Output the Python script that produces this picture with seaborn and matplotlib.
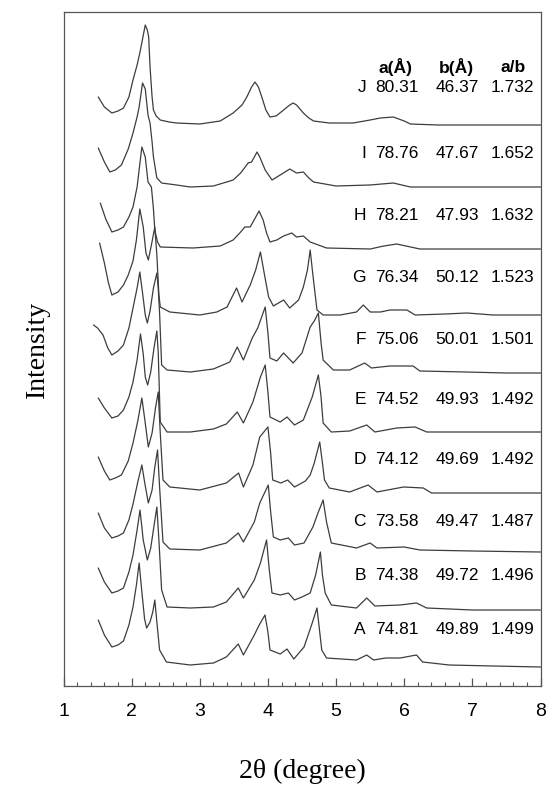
import matplotlib
matplotlib.use("Agg")
import numpy as np
import matplotlib.pyplot as plt
import seaborn as sns
from matplotlib.ticker import MultipleLocator

# lattice parameters, listed bottom (A) to top (J)
samples = ["A", "B", "C", "D", "E", "F", "G", "H", "I", "J"]
a_len = ["74.81", "74.38", "73.58", "74.12", "74.52", "75.06", "76.34", "78.21", "78.76", "80.31"]
b_len = ["49.89", "49.72", "49.47", "49.69", "49.93", "50.01", "50.12", "47.93", "47.67", "46.37"]
ratio = ["1.499", "1.496", "1.487", "1.492", "1.492", "1.501", "1.523", "1.632", "1.652", "1.732"]

# vertical stacking of the patterns (a.u.)
offsets = [19, 76, 134, 193, 254, 313, 371, 437, 499, 561]

# XRD patterns: 2theta (deg) and intensity (a.u.)
tt_A = [1.51, 1.60, 1.71, 1.80, 1.88, 1.96, 2.02, 2.07, 2.11, 2.15, 2.19, 2.22, 2.27, 2.31, 2.34, 2.37, 2.41, 2.51,
        2.86, 3.20, 3.39, 3.565, 3.64, 3.80, 3.88, 3.957, 4.00, 4.03, 4.18, 4.28, 4.38, 4.53, 4.65, 4.72, 4.76,
        4.79, 4.86, 5.30, 5.45, 5.55, 5.73, 5.94, 6.18, 6.27, 6.66, 7.30, 8.00]
in_A = [47, 32, 20, 22, 26, 42, 60, 82, 104, 75, 48, 39, 45, 55, 67, 45, 17, 5,
        2, 4, 10, 23, 12, 32, 43, 52, 35, 17, 13, 18, 8, 20, 44, 59, 35,
        17, 9, 7, 12, 7, 9, 9, 12, 5, 2, 1, 0]

tt_B = [1.51, 1.60, 1.71, 1.80, 1.88, 1.96, 2.02, 2.08, 2.123, 2.17, 2.23, 2.28, 2.33, 2.37, 2.40, 2.44, 2.52,
        2.86, 3.20, 3.39, 3.565, 3.64, 3.80, 3.89, 3.98, 4.02, 4.06, 4.18, 4.30, 4.39, 4.50, 4.62, 4.70, 4.77,
        4.80, 4.84, 4.93, 5.30, 5.45, 5.57, 5.94, 6.18, 6.33, 7.00, 8.00]
in_B = [42, 28, 17, 19, 22, 38, 55, 80, 100, 70, 50, 62, 85, 103, 70, 20, 3,
        2, 3, 8, 22, 12, 30, 47, 70, 40, 17, 15, 17, 10, 13, 17, 35, 58,
        35, 17, 5, 2, 12, 4, 5, 7, 2, 0, 0]

tt_C = [1.51, 1.60, 1.71, 1.80, 1.88, 1.96, 2.02, 2.09, 2.15, 2.19, 2.245, 2.30, 2.34, 2.38, 2.41, 2.46, 2.56,
        3.00, 3.39, 3.565, 3.64, 3.80, 3.88, 4.005, 4.04, 4.08, 4.18, 4.30, 4.39, 4.53, 4.66, 4.74, 4.81, 4.86,
        4.93, 5.30, 5.50, 5.60, 6.00, 6.23, 7.00, 8.00]
in_C = [39, 24, 14, 16, 19, 32, 48, 70, 87, 70, 49, 62, 85, 102, 65, 10, 3,
        2, 9, 19, 10, 30, 49, 67, 40, 15, 12, 14, 7, 9, 25, 40, 52, 30,
        9, 4, 9, 4, 5, 2, 1, 0]

tt_D = [1.51, 1.60, 1.68, 1.76, 1.85, 1.95, 2.02, 2.09, 2.15, 2.19, 2.245, 2.30, 2.35, 2.39, 2.42, 2.46, 2.56,
        3.00, 3.39, 3.57, 3.64, 3.78, 3.88, 4.00, 4.04, 4.07, 4.19, 4.29, 4.39, 4.55, 4.62, 4.68, 4.76, 4.80,
        4.83, 4.90, 5.20, 5.47, 5.60, 5.99, 6.28, 6.40, 7.00, 8.00]
in_D = [36, 22, 13, 15, 18, 32, 50, 72, 95, 75, 46, 60, 85, 101, 60, 13, 6,
        3, 10, 20, 6, 28, 56, 66, 40, 13, 10, 13, 6, 12, 18, 30, 51, 30,
        13, 5, 1, 8, 1, 6, 5, 0, 0, 0]

tt_E = [1.51, 1.60, 1.71, 1.80, 1.88, 1.96, 2.02, 2.08, 2.13, 2.17, 2.20, 2.235, 2.28, 2.33, 2.37, 2.39, 2.42,
        2.52, 2.86, 3.20, 3.39, 3.55, 3.64, 3.78, 3.89, 3.96, 4.00, 4.03, 4.18, 4.28, 4.39, 4.52, 4.65, 4.74,
        4.78, 4.81, 4.93, 5.20, 5.45, 5.57, 5.89, 6.16, 6.33, 7.00, 8.00]
in_E = [34, 24, 14, 16, 22, 35, 50, 72, 98, 78, 55, 47, 60, 85, 101, 80, 10,
        0, 0, 3, 8, 20, 9, 30, 55, 67, 40, 15, 10, 15, 7, 12, 35, 57,
        35, 9, 0, 1, 7, 0, 4, 5, 0, 0, 0]

tt_F = [1.44, 1.50, 1.58, 1.65, 1.71, 1.80, 1.88, 1.96, 2.02, 2.08, 2.12, 2.16, 2.20, 2.23, 2.27, 2.32, 2.37,
        2.39, 2.41, 2.44, 2.52, 2.86, 3.20, 3.44, 3.55, 3.64, 3.77, 3.85, 3.96, 4.00, 4.03, 4.13, 4.23, 4.37,
        4.50, 4.62, 4.68, 4.74, 4.78, 4.81, 4.96, 5.20, 5.42, 5.52, 5.79, 6.13, 6.23, 6.90, 7.50, 8.00]
in_F = [48, 45, 38, 25, 18, 22, 28, 45, 65, 85, 101, 80, 58, 50, 62, 85, 100,
        85, 60, 8, 3, 1, 4, 11, 26, 13, 35, 45, 66, 40, 15, 12, 20, 10,
        20, 46, 52, 60, 30, 13, 3, 3, 10, 5, 7, 7, 2, 1, 0, 0]

tt_G = [1.53, 1.60, 1.66, 1.71, 1.80, 1.88, 1.95, 2.02, 2.07, 2.12, 2.17, 2.21, 2.245, 2.29, 2.34, 2.37, 2.40,
        2.42, 2.56, 3.00, 3.25, 3.40, 3.54, 3.62, 3.74, 3.82, 3.89, 3.95, 4.01, 4.08, 4.23, 4.32, 4.45, 4.52,
        4.58, 4.62, 4.66, 4.72, 4.81, 5.06, 5.30, 5.40, 5.50, 5.65, 5.79, 6.04, 6.16, 6.60, 6.92, 7.30, 8.00]
in_G = [72, 52, 32, 20, 23, 30, 40, 54, 75, 106, 88, 62, 55, 70, 88, 60, 20,
        8, 3, 0, 3, 8, 27, 13, 30, 45, 63, 40, 18, 9, 15, 7, 15, 28,
        45, 65, 40, 5, 0, 0, 3, 10, 3, 3, 5, 5, 0, 1, 2, 0, 0]

tt_H = [1.54, 1.62, 1.71, 1.80, 1.88, 1.96, 2.02, 2.08, 2.15, 2.20, 2.24, 2.29, 2.32, 2.34, 2.38, 2.42, 2.90,
        3.30, 3.49, 3.60, 3.66, 3.74, 3.87, 3.93, 3.98, 4.03, 4.13, 4.23, 4.35, 4.42, 4.52, 4.62, 4.86, 5.50,
        5.70, 5.89, 6.23, 7.00, 8.00]
in_H = [46, 30, 17, 19, 22, 32, 42, 62, 102, 92, 67, 62, 40, 19, 7, 2, 1,
        3, 9, 17, 22, 22, 38, 29, 16, 7, 9, 13, 16, 12, 13, 7, 1, 0,
        3, 5, 0, 0, 0]

tt_I = [1.51, 1.60, 1.68, 1.76, 1.85, 1.95, 2.02, 2.08, 2.11, 2.16, 2.20, 2.24, 2.27, 2.30, 2.32, 2.37, 2.44,
        2.66, 2.86, 3.20, 3.49, 3.60, 3.71, 3.76, 3.84, 3.88, 3.96, 4.06, 4.18, 4.32, 4.42, 4.52, 4.60, 4.67,
        5.00, 5.50, 5.84, 6.09, 7.00, 8.00]
in_I = [39, 25, 15, 17, 22, 38, 54, 70, 80, 104, 98, 72, 64, 45, 30, 9, 4,
        2, 0, 1, 7, 14, 24, 25, 35, 30, 17, 7, 12, 18, 14, 15, 9, 5,
        1, 2, 4, 0, 0, 0]

tt_J = [1.51, 1.60, 1.71, 1.80, 1.88, 1.96, 2.02, 2.08, 2.12, 2.16, 2.20, 2.23, 2.25, 2.27, 2.30, 2.32, 2.36,
        2.42, 2.55, 2.66, 3.00, 3.30, 3.49, 3.62, 3.69, 3.76, 3.81, 3.86, 3.91, 3.97, 4.03, 4.12, 4.23, 4.32,
        4.37, 4.42, 4.52, 4.60, 4.67, 4.90, 5.25, 5.50, 5.65, 5.84, 6.00, 6.09, 6.50, 7.00, 7.50, 8.00]
in_J = [28, 18, 12, 14, 17, 28, 45, 60, 72, 86, 100, 95, 88, 58, 28, 15, 9,
        5, 3, 2, 1, 4, 12, 20, 28, 38, 43, 38, 28, 15, 8, 9, 15, 20,
        22, 20, 12, 7, 4, 2, 2, 5, 7, 8, 4, 1, 0, 0, 0, 0]

patterns = {
    "A": (tt_A, in_A), "B": (tt_B, in_B), "C": (tt_C, in_C), "D": (tt_D, in_D), "E": (tt_E, in_E),
    "F": (tt_F, in_F), "G": (tt_G, in_G), "H": (tt_H, in_H), "I": (tt_I, in_I), "J": (tt_J, in_J),
}

sns.set_style("ticks")
plt.rcParams["font.family"] = ["Liberation Sans", "DejaVu Sans"]
plt.rcParams["text.color"] = "black"
plt.rcParams["axes.labelcolor"] = "black"
plt.rcParams["xtick.labelcolor"] = "black"

fig = plt.figure(figsize=(5.49, 7.92), dpi=100)
ax = fig.add_axes([63.5 / 549, 1 - 686 / 792, 477 / 549, 674 / 792])

line_col = "#3d3d3d"
for s, off in zip(samples, offsets):
    tt, inten = patterns[s]
    sns.lineplot(x=tt, y=np.array(inten) + off, ax=ax, color=line_col, linewidth=0.9,
                 estimator=None, sort=False)

# lattice parameter table
label_lift = [38, 35, 30, 33, 33, 33, 37, 33, 34, 37]
fs = 12.5
for s, off, lift, a, b, r in zip(samples, offsets, label_lift, a_len, b_len, ratio):
    y = off + lift
    ax.text(5.44, y, s, ha="right", va="center", fontsize=fs)
    ax.text(5.89, y, a, ha="center", va="center", fontsize=fs)
    ax.text(6.775, y, b, ha="center", va="center", fontsize=fs)
    ax.text(7.59, y, r, ha="center", va="center", fontsize=fs)
head_y = 619
ax.text(5.87, head_y, "a(Å)", ha="center", va="center", fontsize=fs, fontweight="bold")
ax.text(6.77, head_y, "b(Å)", ha="center", va="center", fontsize=fs, fontweight="bold")
ax.text(7.60, head_y, "a/b", ha="center", va="center", fontsize=fs, fontweight="bold")

ax.set_xlim(1, 8)
ax.set_ylim(0, 674)
ax.xaxis.set_major_locator(MultipleLocator(1))
ax.xaxis.set_minor_locator(MultipleLocator(0.2))
ax.tick_params(axis="x", which="major", direction="in", length=6, width=0.9, color="#555555",
               labelsize=14, pad=12)
ax.tick_params(axis="x", which="minor", direction="in", length=3, width=0.8, color="#555555")
ax.set_yticks([])
for sp in ax.spines.values():
    sp.set_visible(True)
    sp.set_color("#555555")
    sp.set_linewidth(0.9)

ax.set_xlabel("2θ (degree)", family=["Liberation Serif", "DejaVu Serif"], fontsize=20, labelpad=28)
ax.set_ylabel("Intensity", family=["Liberation Serif", "DejaVu Serif"], fontsize=20, labelpad=10)

fig.savefig("out.png", dpi=100)
